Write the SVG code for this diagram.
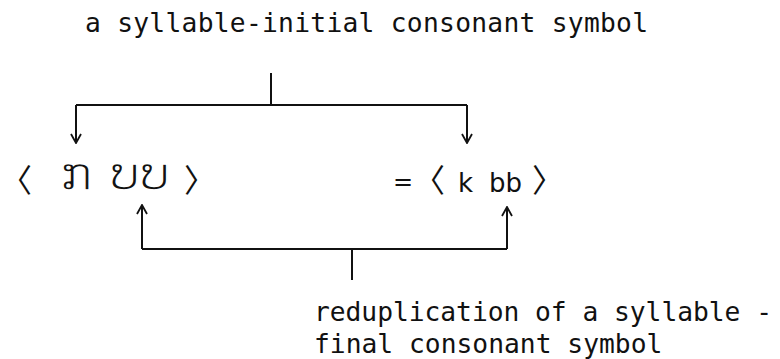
<svg xmlns="http://www.w3.org/2000/svg" width="780" height="359" viewBox="0 0 780 359">
  <defs>
    <style>
      .mono { font-family: "DejaVu Sans Mono", "Liberation Mono", monospace; font-size: 26.3px; fill: #111; }
      .sans { font-family: "DejaVu Sans", "Liberation Sans", sans-serif; fill: #111; }
      .br { font-family: "Noto Sans CJK JP", "DejaVu Sans", sans-serif; font-size: 32px; fill: #111; }
      .lao { font-family: "DejaVu Sans", "Noto Sans", sans-serif; font-size: 48px; fill: #111; stroke: #fff; stroke-width: 1.5px; }
      .line { fill: none; stroke: #111; stroke-width: 2; }
      .arrow { fill: none; stroke: #111; stroke-width: 2; marker-end: url(#head); }
    </style>
    <marker id="head" viewBox="-1 -6 11 12" refX="9" refY="0" markerWidth="11" markerHeight="12" markerUnits="userSpaceOnUse" orient="auto">
      <path d="M0,-5 L9,0 L0,5" fill="none" stroke="#111" stroke-width="1.8"/>
    </marker>
  </defs>
  <rect width="780" height="359" fill="#fff"/>

  <g id="top-label">
    <text class="mono" x="85" y="32" textLength="563" lengthAdjust="spacing">a syllable-initial consonant symbol</text>
  </g>

  <g id="lao-form">
    <text class="br" x="0" y="192">〈</text>
    <text class="lao" x="60" y="190">ກ</text>
    <text class="lao" x="110" y="190">ບບ</text>
    <text class="br" x="184" y="192">〉</text>
  </g>

  <g id="translit">
    <text class="sans" x="393" y="190" font-size="24">=</text>
    <text class="br" x="413" y="192">〈</text>
    <text class="sans" x="458" y="192" font-size="26">k</text>
    <text class="sans" x="489" y="192" font-size="26">bb</text>
    <text class="br" x="532" y="192">〉</text>
  </g>

  <g id="bottom-label">
    <text class="mono" x="314" y="321" textLength="458" lengthAdjust="spacing">reduplication of a syllable -</text>
    <text class="mono" x="314" y="353">final consonant symbol</text>
  </g>

  <g id="connectors">
    <path class="line" d="M271,73 V105 M76,105 H467"/>
    <path class="arrow" d="M76,105 V143"/>
    <path class="arrow" d="M467,105 V143"/>
    <path class="line" d="M142,249 H507 M352,249 V280"/>
    <path class="arrow" d="M142,249 V205"/>
    <path class="arrow" d="M507,249 V207"/>
  </g>
</svg>
